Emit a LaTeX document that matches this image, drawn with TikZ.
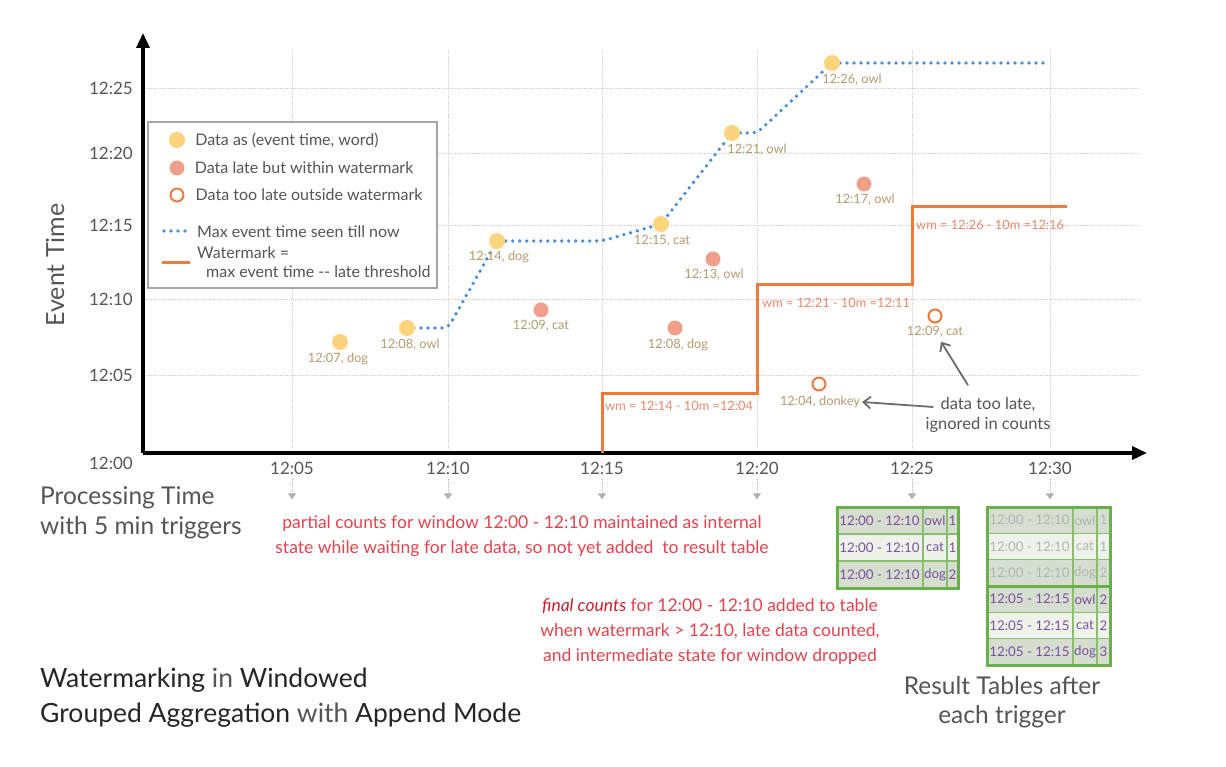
\documentclass[tikz,border=0pt]{standalone}
\usepackage{fontspec}
\setmainfont{Lato}
\usetikzlibrary{arrows.meta,positioning}

\definecolor{dotyellow}{HTML}{FDD47E}
\definecolor{dotsalmon}{HTML}{F0A08A}
\definecolor{wmorange}{HTML}{EE7A3C}
\definecolor{maxblue}{HTML}{4A8FD6}
\definecolor{ptbrown}{HTML}{B39C6E}
\definecolor{wmtext}{HTML}{E8896A}
\definecolor{notered}{HTML}{E2444E}
\definecolor{finalred}{HTML}{C8202C}
\definecolor{tblgreen}{HTML}{6AB04A}
\definecolor{rowdark}{HTML}{D6DECF}
\definecolor{rowlight}{HTML}{EEF2EA}
\definecolor{tblpurple}{HTML}{7A509E}
\definecolor{fadedtext}{HTML}{B4B4B4}
\definecolor{gridgray}{HTML}{CFCFCF}
\definecolor{axisgray}{HTML}{555555}

\begin{document}
\begin{tikzpicture}[x=1pt,y=-1pt,
    every node/.style={inner sep=0pt},
    gridline/.style={gridgray, densely dotted, line width=0.9pt},
    tick/.style={font=\fontsize{17}{20}\selectfont, text=axisgray},
    tickarrow/.style={gray!60, densely dotted, line width=1pt, -{Triangle[length=6pt,width=8pt]}},
    axis/.style={black, line width=3.5pt, -{Triangle[length=15pt,width=13pt]}},
    freshdot/.style={circle, minimum size=16pt, fill=dotyellow},
    latedot/.style={circle, minimum size=15pt, fill=dotsalmon},
    lostdot/.style={circle, minimum size=13pt, draw=wmorange, line width=2pt, fill=white},
    ptlabel/.style={font=\fontsize{12.8}{14}\selectfont, text=ptbrown},
    wmlabel/.style={font=\fontsize{12.8}{14}\selectfont, text=wmtext, anchor=west},
    maxline/.style={maxblue, line width=3.8pt, line cap=round, dash pattern=on 0pt off 7pt, rounded corners=6pt},
    wmline/.style={wmorange, line width=3pt},
    legendtext/.style={font=\fontsize{16}{19}\selectfont, text=axisgray, anchor=west},
    note/.style={font=\fontsize{17.5}{25}\selectfont, text=notered, align=center},
    pointer/.style={gray!85!black, line width=1.8pt, -{Straight Barb[length=7pt,width=12pt]}},
    bigtext/.style={font=\fontsize{24}{30}\selectfont, text=axisgray},
    cell/.style={font=\fontsize{13.3}{15}\selectfont},
    cellline/.style={tblgreen!80, line width=1.2pt},
    tblframe/.style={tblgreen, line width=3pt}
  ]
  \useasboundingbox[fill=white] (0,0) rectangle (1226,767);

  % grid and tick labels
  \foreach \t/\px in {05/292,10/448,15/602,20/757,25/912,30/1050} {
    \draw[gridline] (\px,50) -- (\px,453);
    \node[tick] (proc\t) at (\px,468) {12:\t};
    \draw[tickarrow] ([yshift=-5pt]proc\t.south) -- ++(0,20);
  }
  \foreach \t/\py in {05/375,10/299,15/225,20/153,25/88} {
    \draw[gridline] (143,\py) -- (1140,\py);
    \node[tick, anchor=east] (event\t) at (133,\py) {12:\t};
  }
  \node[tick, anchor=east] (event00) at (133,463) {12:00};

  % axes
  \coordinate (origin) at (143,453);
  \draw[axis] (origin) -- (143,33);
  \draw[axis] (origin) -- (1147,453);
  \node[bigtext, rotate=90, font=\fontsize{25}{30}\selectfont] (eventtime) at (55,265) {Event Time};
  \node[bigtext, anchor=west, align=left, font=\fontsize{24.5}{30}\selectfont] (proctime) at (40,513)
    {Processing Time\\with 5 min triggers};

  % legend
  \draw[gray!70, line width=1.2pt, fill=white] (148,122) rectangle (437,288);
  \node[freshdot] (lgfresh) at (177,140) {};
  \node[legendtext, right=10pt of lgfresh] (lgfreshtxt) {Data as (event time, word)};
  \node[latedot] (lglate) at (177,168) {};
  \node[legendtext, right=10pt of lglate] (lglatetxt) {Data late but within watermark};
  \node[lostdot] (lglost) at (177,195) {};
  \node[legendtext, right=11pt of lglost] (lglosttxt) {Data too late outside watermark};
  \coordinate (lgmaxa) at (164,231);
  \coordinate (lgmaxb) at (190,231);
  \draw[maxline] (lgmaxa) -- (lgmaxb);
  \node[legendtext] (lgmaxtxt) at (197,232) {Max event time seen till now};
  \coordinate (lgwma) at (162,263);
  \coordinate (lgwmb) at (190,263);
  \draw[wmline] (lgwma) -- (lgwmb);
  \node[legendtext] (lgwmtxt) at (197,253) {Watermark =};
  \node[legendtext] (lgwmtxtb) at (206,272) {max event time -{}- late threshold};

  % max event time seen
  \coordinate (owl08) at (407,328);
  \coordinate (dog14) at (497,241);
  \coordinate (cat15) at (661,224);
  \coordinate (owl21) at (732,133);
  \coordinate (owl26) at (832,63);
  \draw[maxline] (owl08) -- (448,328) -- (dog14) -- (602,241) -- (cat15)
    -- (owl21) -- (757,133) -- (owl26) -- (1050,63);

  % watermark
  \draw[wmline] (602,453) -- (602,393) -- (757,393) -- (757,285) -- (912,285)
    -- (912,207) -- (1067,207);
  \node[wmlabel] (wm1) at (605,406) {wm = 12:14 - 10m =12:04};
  \node[wmlabel] (wm2) at (762,303) {wm = 12:21 - 10m =12:11};
  \node[wmlabel] (wm3) at (916,225) {wm = 12:26 - 10m =12:16};

  % data on time
  \node[freshdot] (dog07dot) at (340,342) {};
  \node[ptlabel] (dog07lbl) at (338,359) {12:07, dog};
  \node[freshdot] (owl08dot) at (owl08) {};
  \node[ptlabel] (owl08lbl) at (410,345) {12:08, owl};
  \node[freshdot] (dog14dot) at (dog14) {};
  \node[ptlabel] (dog14lbl) at (499,257) {12:14, dog};
  \node[freshdot] (cat15dot) at (cat15) {};
  \node[ptlabel] (cat15lbl) at (662,241) {12:15, cat};
  \node[freshdot] (owl21dot) at (owl21) {};
  \node[ptlabel] (owl21lbl) at (757,150) {12:21, owl};
  \node[freshdot] (owl26dot) at (owl26) {};
  \node[ptlabel] (owl26lbl) at (852,80) {12:26, owl};

  % data late but kept
  \node[latedot] (cat09dot) at (541,310) {};
  \node[ptlabel] (cat09lbl) at (541,326) {12:09, cat};
  \node[latedot] (dog08dot) at (675,328) {};
  \node[ptlabel] (dog08lbl) at (678,345) {12:08, dog};
  \node[latedot] (owl13dot) at (713,259) {};
  \node[ptlabel] (owl13lbl) at (714,275) {12:13, owl};
  \node[latedot] (owl17dot) at (864,184) {};
  \node[ptlabel] (owl17lbl) at (865,200) {12:17, owl};

  % data dropped
  \node[lostdot] (donkeydot) at (819,384) {};
  \node[ptlabel] (donkeylbl) at (820,402) {12:04, donkey};
  \node[lostdot] (lostcatdot) at (935,316) {};
  \node[ptlabel] (lostcatlbl) at (935,332) {12:09, cat};
  \node[font=\fontsize{16.5}{20}\selectfont, text=axisgray, align=center] (toolate) at (988,415)
    {data too late,\\ignored in counts};
  \draw[pointer] ([shift={(8,-8)}]toolate.west) -- ([xshift=2pt]donkeylbl.east);
  \draw[pointer] ([shift={(-20,-12)}]toolate.north) -- ([shift={(6,4)}]lostcatlbl.south);

  % notes
  \node[note] (partial) at (522,536)
    {partial counts for window 12:00 - 12:10 maintained as internal\\
     state while waiting for late data, so not yet added\ \ to result table};
  \node[note] (final) at (710,632)
    {\textcolor{finalred}{\itshape final counts} for 12:00 - 12:10 added to table\\
     when watermark > 12:10, late data counted,\\
     and intermediate state for window dropped};

  % result table after 12:25
  \foreach \w/\c/\f [count=\i] in {owl/1/rowdark,cat/1/rowlight,dog/2/rowdark} {
    \pgfmathsetmacro\ty{507+27*(\i-1)}
    \fill[\f] (837,\ty) rectangle (958,\ty+27);
    \node[cell, text=tblpurple] (ra\i) at (879.5,\ty+13.5) {12:00 - 12:10};
    \node[cell, text=tblpurple] (rb\i) at (935,\ty+13.5) {\w};
    \node[cell, text=tblpurple] (rc\i) at (952.5,\ty+13.5) {\c};
  }
  \draw[cellline] (837,534) -- (958,534) (837,561) -- (958,561)
    (923,507) -- (923,588) (947,507) -- (947,588);
  \draw[tblframe] (837,507) rectangle (958,588);

  % result table after 12:30
  \foreach \win/\w/\c/\f/\tc [count=\i] in {12:00 - 12:10/owl/1/rowdark/fadedtext,
      12:00 - 12:10/cat/1/rowlight/fadedtext,12:00 - 12:10/dog/2/rowdark/fadedtext,
      12:05 - 12:15/owl/2/rowdark/tblpurple,12:05 - 12:15/cat/2/rowlight/tblpurple,
      12:05 - 12:15/dog/3/rowdark/tblpurple} {
    \pgfmathsetmacro\ty{507+26.33*(\i-1)}
    \fill[\f] (987,\ty) rectangle (1110,\ty+26.33);
    \node[cell, text=\tc] (sa\i) at (1029.5,\ty+13.2) {\win};
    \node[cell, text=\tc] (sb\i) at (1085,\ty+13.2) {\w};
    \node[cell, text=\tc] (sc\i) at (1103.5,\ty+13.2) {\c};
  }
  \draw[cellline] (987,533.3) -- (1110,533.3) (987,559.7) -- (1110,559.7)
    (987,612.3) -- (1110,612.3) (987,638.7) -- (1110,638.7)
    (1073,507) -- (1073,665) (1097,507) -- (1097,665);
  \draw[tblframe] (987,586) -- (1110,586);
  \draw[tblframe] (987,507) rectangle (1110,665);

  % captions
  \node[bigtext, anchor=west, align=left, font=\fontsize{26.5}{35}\selectfont] (title) at (40,698)
    {\textcolor{black!85}{Watermarking} in \textcolor{black!85}{Windowed}\\
     \textcolor{black!85}{Grouped Aggregation} with \textcolor{black!85}{Append Mode}};
  \node[bigtext, align=center, font=\fontsize{24.5}{29}\selectfont] (resultcap) at (1002,702)
    {Result Tables after\\each trigger};
\end{tikzpicture}
\end{document}
